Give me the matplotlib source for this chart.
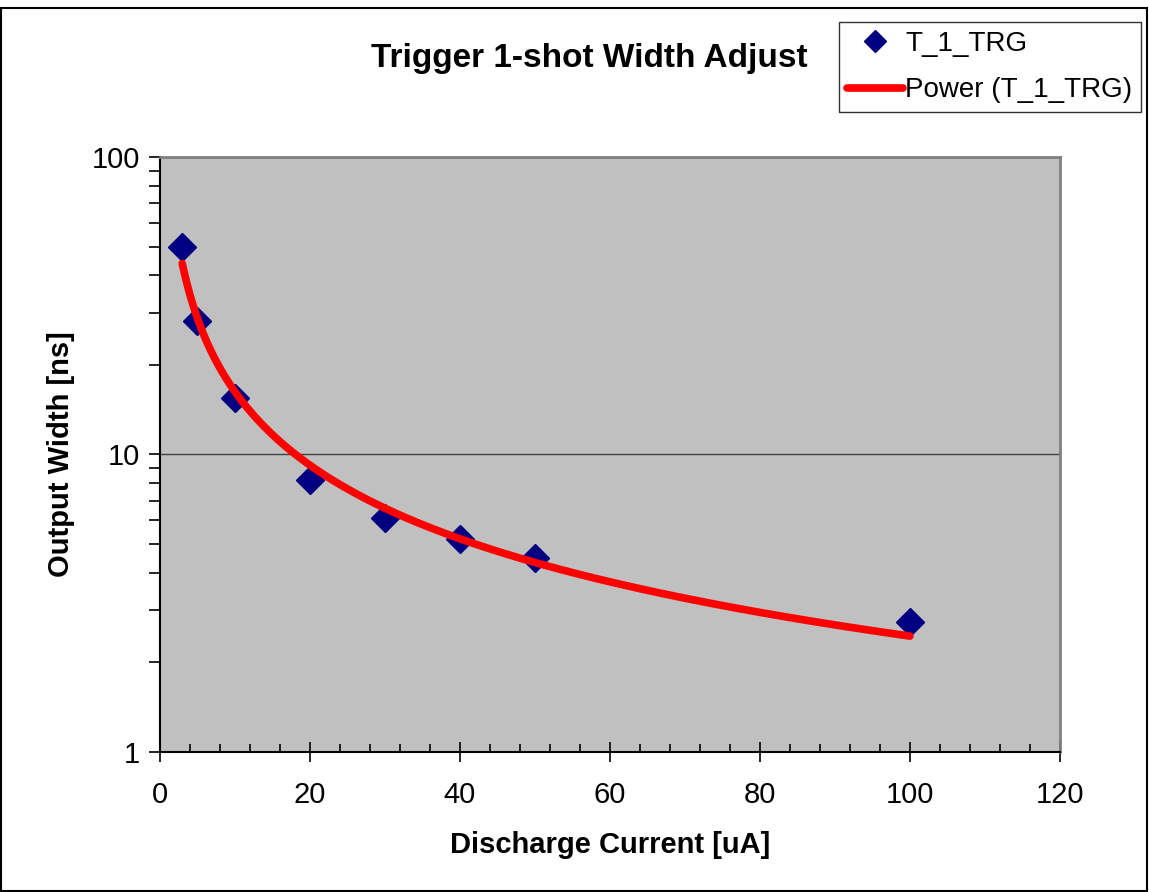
import numpy as np
import matplotlib.pyplot as plt
from matplotlib.patches import Rectangle
from matplotlib.ticker import MultipleLocator, LogLocator, NullFormatter

# data
current = [3, 5, 10, 20, 30, 40, 50, 100]        # Discharge Current [uA]
width = [50, 28, 15.5, 8.2, 6.1, 5.2, 4.5, 2.73]  # Output Width [ns]
x_ticks = [0, 20, 40, 60, 80, 100, 120]
y_ticks = [1, 10, 100]

plt.rcParams['font.family'] = ['Liberation Sans', 'DejaVu Sans']

# power trendline fitted the way Excel does it (least squares in log-log)
b, log_a = np.polyfit(np.log(current), np.log(width), 1)
x_fit = np.linspace(min(current), max(current), 200)
y_fit = np.exp(log_a) * x_fit ** b

fig = plt.figure(figsize=(11.49, 8.92), dpi=100)
ax = fig.add_axes([0.139, 0.157, 0.7835, 0.667])
ax.set_facecolor('#c0c0c0')

ax.plot(current, width, linestyle='none', marker='D', markersize=14,
        color='#000080', label='T_1_TRG', zorder=3)
ax.plot(x_fit, y_fit, color='#ff0000', linewidth=5.5,
        solid_capstyle='round', label='Power (T_1_TRG)', zorder=4)

ax.set_yscale('log')
ax.set_xlim(0, 120)
ax.set_ylim(1, 100)
ax.set_xticks(x_ticks)
ax.set_yticks(y_ticks)
ax.set_yticklabels([str(v) for v in y_ticks])
ax.xaxis.set_minor_locator(MultipleLocator(4))
ax.yaxis.set_minor_locator(LogLocator(base=10, subs=np.arange(2, 10)))
ax.yaxis.set_minor_formatter(NullFormatter())
ax.grid(axis='y', which='major', color='#404040', linewidth=1)

ax.tick_params(axis='x', which='major', direction='inout', length=14, width=1.2,
               labelsize=21, pad=14)
ax.tick_params(axis='x', which='minor', direction='in', length=6, width=1.2)
ax.tick_params(axis='y', which='major', direction='out', length=8, width=1.2,
               labelsize=21, pad=6)
ax.tick_params(axis='y', which='minor', direction='out', length=8, width=1.2)

for side in ['left', 'bottom']:
    ax.spines[side].set_color('black')
    ax.spines[side].set_linewidth(1.5)
for side in ['top', 'right']:
    ax.spines[side].set_color('#808080')
    ax.spines[side].set_linewidth(2)

ax.set_xlabel('Discharge Current [uA]', fontsize=21, fontweight='bold', labelpad=16)
ax.set_ylabel('Output Width [ns]', fontsize=21, fontweight='bold')
ax.yaxis.set_label_coords(-0.094, 0.5)

fig.text(0.513, 0.934, 'Trigger 1-shot Width Adjust', fontsize=24,
         fontweight='bold', ha='center', va='center')

leg = fig.legend(loc='upper left', bbox_to_anchor=(0.730, 0.975), fontsize=20,
                 frameon=True, fancybox=False, edgecolor='black',
                 borderpad=0.3, handlelength=2.0, handletextpad=0.1,
                 labelspacing=0.75, borderaxespad=0)
leg.get_frame().set_linewidth(1)
leg.legend_handles[0].set_markersize(11)

# outer chart border
fig.patches.append(Rectangle((0.001, 0.001), 0.997, 0.990, transform=fig.transFigure,
                             fill=False, edgecolor='black', linewidth=1.5))

plt.savefig('out.png', dpi=100)
